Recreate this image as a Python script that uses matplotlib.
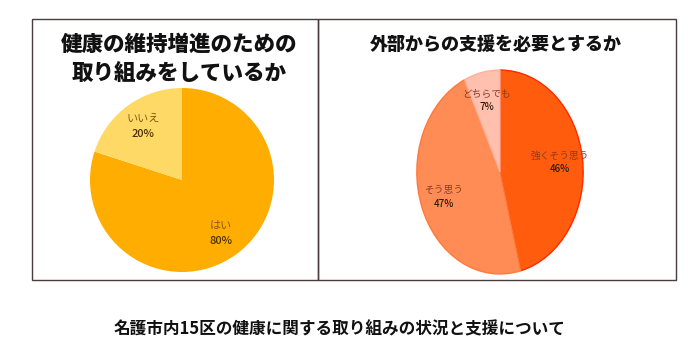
import matplotlib
matplotlib.use("Agg")
import matplotlib.pyplot as plt
import numpy as np
from matplotlib.patches import Rectangle

plt.rcParams['font.family'] = ['Noto Sans CJK JP', 'DejaVu Sans']

# Data
left_title = "健康の維持増進のための\n取り組みをしているか"
left_labels = ["はい", "いいえ"]
left_values = [80, 20]
left_colors = ["#FFAD00", "#FFD966"]

right_title = "外部からの支援を必要とするか"
right_labels = ["強くそう思う", "そう思う", "どちらでも"]
right_values = [46, 47, 7]
right_colors = ["#FF5C0D", "#FF8C55", "#FFC0AE"]
right_edges = ["#FF2A00", "#FF7A3A", "#FFB09C"]

caption = "名護市内15区の健康に関する取り組みの状況と支援について"

W, H = 690, 360
fig = plt.figure(figsize=(W / 100, H / 100), dpi=100)
fig.patch.set_facecolor("white")

def fx(px):
    return px / W

def fy(py):
    return 1 - py / H

# Boxes
box_col = "#4A3C3C"
fig.patches.append(Rectangle((fx(32), fy(280)), fx(318) - fx(32), fy(19) - fy(280),
                             transform=fig.transFigure, fill=False, ec=box_col, lw=1.0))
fig.patches.append(Rectangle((fx(318), fy(280)), fx(676) - fx(318), fy(19) - fy(280),
                             transform=fig.transFigure, fill=False, ec=box_col, lw=1.0))

def label_pie(ax, wedges, labels, values, dist, lab_color, pct_color, lab_size, pct_size, line_gap):
    for w, lab, v in zip(wedges, labels, values):
        ang = np.deg2rad((w.theta1 + w.theta2) / 2)
        x, y = dist * np.cos(ang), dist * np.sin(ang)
        ax.text(x, y + line_gap, lab, ha="center", va="center", fontsize=lab_size, color=lab_color)
        ax.text(x, y - line_gap, f"{v}%", ha="center", va="center", fontsize=pct_size,
                color=pct_color, fontweight="medium")

# Left pie
axL = fig.add_axes([fx(90), fy(272), 184 / W, 184 / H])
wL, _ = axL.pie(left_values, colors=left_colors, startangle=90, counterclock=False,
                radius=1.0, wedgeprops=dict(linewidth=0))
axL.set_xlim(-1, 1); axL.set_ylim(-1, 1); axL.set_aspect("auto"); axL.axis("off")
label_pie(axL, wL, left_labels, left_values, 0.72, "#8B5A1A", "#4A3000", 8, 8, 0.08)

# Right pie (elliptical)
axR = fig.add_axes([fx(416), fy(275), 168 / W, 206 / H])
wR, _ = axR.pie(right_values, colors=right_colors, startangle=90, counterclock=False,
                radius=1.0, wedgeprops=dict(linewidth=1.0))
for w, ec in zip(wR, right_edges):
    w.set_edgecolor(ec)
axR.set_xlim(-1.01, 1.01); axR.set_ylim(-1.01, 1.01); axR.set_aspect("auto"); axR.axis("off")
label_pie(axR, wR, right_labels, right_values, 0.72, "#8B3A2A", "#2A1A10", 7, 7, 0.065)

# Titles
fig.text(fx(179), fy(59), left_title, ha="center", va="center", fontsize=15.5,
         fontweight="heavy", color="#111111", linespacing=1.3)
fig.text(fx(496), fy(44), right_title, ha="center", va="center", fontsize=13,
         fontweight="heavy", color="#111111")

# Caption
fig.text(fx(340), fy(329), caption, ha="center", va="center", fontsize=12,
         fontweight="bold", color="#111111")

fig.savefig("out.png", dpi=100, facecolor="white")
